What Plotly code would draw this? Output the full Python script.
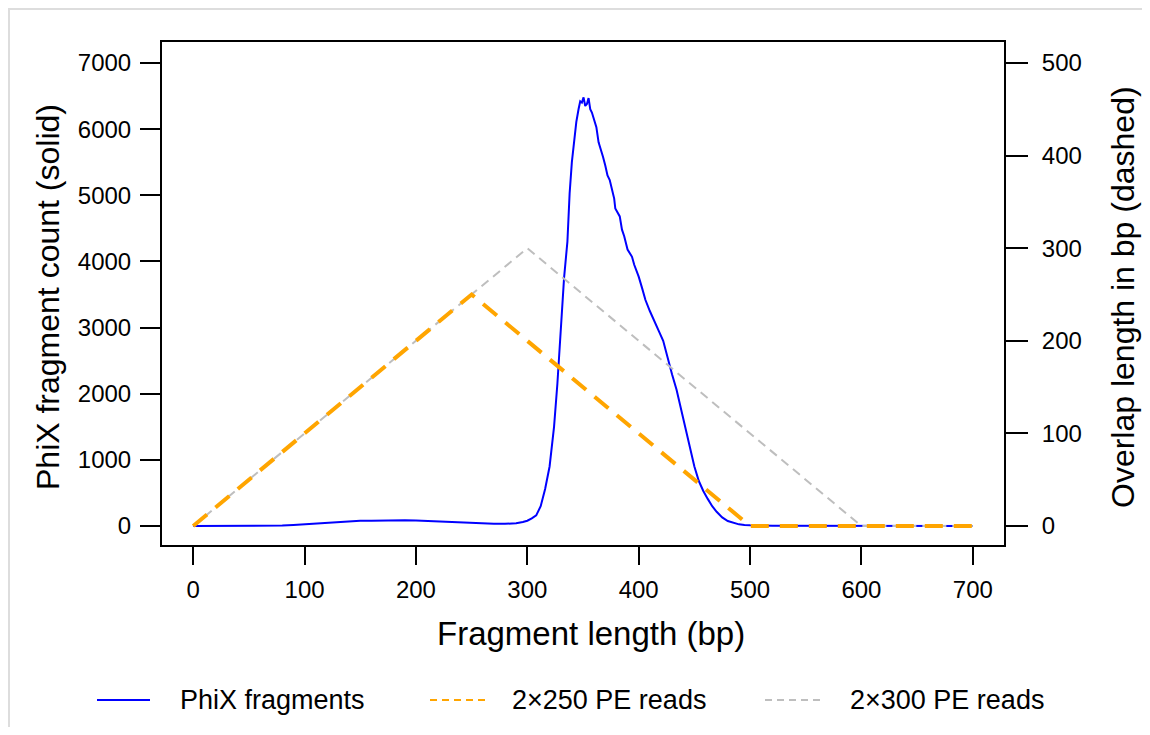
import plotly.graph_objects as go

# ---- data ----
frag_len = [0, 20, 40, 60, 80, 90, 100, 110, 120, 130, 140, 150, 160, 170, 180, 190, 200,
            210, 220, 230, 240, 250, 260, 270, 280, 290, 296, 300, 304, 308, 312, 316, 320,
            324, 327, 330, 333, 336, 338, 340, 342, 344, 346, 347.5, 349, 350.5, 352, 353.5,
            355, 356.5, 358, 360, 362, 364, 366, 368, 370, 372, 374, 376, 378, 379, 381, 383,
            385, 387, 390, 392, 394, 396, 398, 400, 403, 406, 410, 414, 418, 422, 426, 430,
            434, 438, 442, 446, 450, 454, 458, 462, 466, 470, 475, 480, 485, 490, 495, 500,
            520, 550, 600, 650, 700]
phix_count = [0, 0, 0, 2, 8, 15, 25, 38, 50, 60, 72, 78, 80, 85, 90, 88, 82,
              75, 62, 52, 45, 38, 35, 33, 34, 42, 60, 80, 115, 160, 300, 560, 900,
              1500, 2150, 3000, 3750, 4300, 5030, 5500, 5810, 6110, 6300, 6420, 6400, 6480, 6350, 6380,
              6470, 6300, 6250, 6150, 6030, 5800, 5700, 5580, 5450, 5300, 5230, 5100, 4950, 4800, 4750, 4680,
              4480, 4380, 4180, 4120, 4070, 3950, 3870, 3770, 3600, 3420, 3250, 3110, 2950, 2800, 2530, 2290,
              2060, 1780, 1480, 1190, 900, 680, 530, 410, 300, 215, 130, 75, 45, 25, 15, 10,
              5, 3, 2, 1, 1]

pe250_x = [0, 250, 500, 700]
pe250_overlap = [0, 250, 0, 0]
pe300_x = [0, 300, 600, 700]
pe300_overlap = [0, 300, 0, 0]

x_ticks = [0, 100, 200, 300, 400, 500, 600, 700]
y_ticks = [0, 1000, 2000, 3000, 4000, 5000, 6000, 7000]
y2_ticks = [0, 100, 200, 300, 400, 500]

series_names = ["PhiX fragments", "2\u00d7250 PE reads", "2\u00d7300 PE reads"]
x_title = "Fragment length (bp)"
y_title = "PhiX fragment count (solid)"
y2_title = "Overlap length in bp (dashed)"

BLUE = "#0000FF"
ORANGE = "#FFA500"
GRAY = "#BEBEBE"
FONT = "Liberation Sans, Arial, Helvetica, sans-serif"

# page offset (browser body margin)
OFF = 8
W, H = 1134, 719
L, T = 162 - OFF, 42 - OFF
R = W - (1004 - OFF)
B = H - (545 - OFF)
pw, ph = W - L - R, H - T - B


def px(xp):
    return (xp - OFF - L) / pw


def py(yp):
    return (H - B - (yp - OFF)) / ph


fig = go.Figure()
fig.add_trace(go.Scatter(x=frag_len, y=phix_count, mode="lines", name=series_names[0],
                         line=dict(color=BLUE, width=2), showlegend=False, yaxis="y"))
fig.add_trace(go.Scatter(x=pe300_x, y=pe300_overlap, mode="lines", name=series_names[2],
                         line=dict(color=GRAY, width=2, dash="9px,6px"), showlegend=False, yaxis="y2"))
fig.add_trace(go.Scatter(x=pe250_x, y=pe250_overlap, mode="lines", name=series_names[1],
                         line=dict(color=ORANGE, width=4, dash="18px,11px"), showlegend=False, yaxis="y2"))

tickfont = dict(family=FONT, size=24, color="#000000")
title_font = dict(family=FONT, size=32, color="#000")
leg_font = dict(family=FONT, size=27, color="#000")

annotations = [
    dict(text=x_title, xref="paper", yref="paper", x=px(591), y=py(633), showarrow=False,
         font=dict(family=FONT, size=33, color="#000"), xanchor="center", yanchor="middle"),
    dict(text=y_title, xref="paper", yref="paper", x=px(48), y=py(297), showarrow=False,
         textangle=-90, font=title_font, xanchor="center", yanchor="middle"),
    dict(text=y2_title, xref="paper", yref="paper", x=px(1123), y=py(297), showarrow=False,
         textangle=-90, font=title_font, xanchor="center", yanchor="middle"),
]

shapes = [
    dict(type="line", xref="paper", yref="paper", x0=px(8), x1=px(1142), y0=py(9), y1=py(9),
         line=dict(color="#DDDDDD", width=2)),
    dict(type="line", xref="paper", yref="paper", x0=px(9), x1=px(9), y0=py(9), y1=py(727),
         line=dict(color="#DDDDDD", width=2)),
]

# manual legend (sample line + label)
leg_y = 700
leg_items = [
    (series_names[0], BLUE, "solid", 97, 150, 178),
    (series_names[1], ORANGE, "7px,5px", 430, 485, 510),
    (series_names[2], GRAY, "7px,5px", 765, 820, 848),
]
for name, col, dash, x0, x1, tx in leg_items:
    shapes.append(dict(type="line", xref="paper", yref="paper", x0=px(x0), x1=px(x1),
                       y0=py(leg_y), y1=py(leg_y), line=dict(color=col, width=2, dash=dash)))
    annotations.append(dict(text=name, xref="paper", yref="paper", x=px(tx), y=py(leg_y),
                            showarrow=False, xanchor="left", yanchor="middle", font=leg_font))

fig.update_layout(
    width=W, height=H,
    margin=dict(l=L, r=R, t=T, b=B, autoexpand=False),
    paper_bgcolor="white", plot_bgcolor="white",
    font=dict(family=FONT, color="#000000"),
    showlegend=False,
    xaxis=dict(range=[-28, 728], tickvals=x_ticks, ticks="outside", ticklen=18, tickwidth=1.5,
               tickcolor="#000", showline=True, linecolor="#000", linewidth=2, mirror=True,
               showgrid=False, zeroline=False, tickfont=tickfont, ticklabelstandoff=4),
    yaxis=dict(range=[-287, 7317], tickvals=y_ticks, ticks="outside", ticklen=20, tickwidth=1.5,
               tickcolor="#000", showline=True, linecolor="#000", linewidth=2, mirror=True,
               showgrid=False, zeroline=False, tickfont=tickfont, ticklabelstandoff=4),
    yaxis2=dict(range=[-287 / 14, 7317 / 14], tickvals=y2_ticks, ticks="outside", ticklen=22,
                tickwidth=1.5, tickcolor="#000", showline=True, linecolor="#000", linewidth=2,
                overlaying="y", side="right", showgrid=False, zeroline=False, tickfont=tickfont,
                ticklabelstandoff=9),
    annotations=annotations,
    shapes=shapes,
)

fig.write_html("out.html")
